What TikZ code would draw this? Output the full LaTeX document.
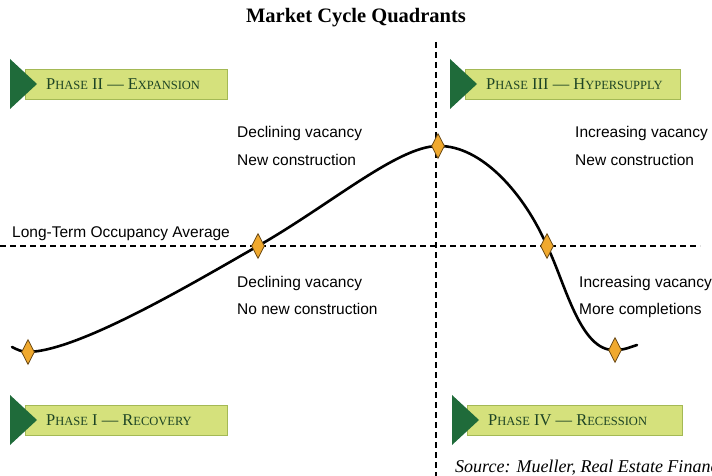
\documentclass[tikz,border=0pt]{standalone}
\usepackage{fontspec}
\newfontfamily\notefont{Liberation Sans}
\newfontfamily\titlefont{Liberation Serif}
\usetikzlibrary{positioning,shapes.geometric}

\definecolor{tipgreen}{HTML}{1F6B3A}
\definecolor{barfill}{HTML}{D5E17C}
\definecolor{barline}{HTML}{A4B955}
\definecolor{bartext}{HTML}{1D4424}
\definecolor{markfill}{HTML}{F0A92E}
\definecolor{markline}{HTML}{6B4A16}

% smaller capitals for the banner lettering
\newcommand{\lowcaps}[1]{{\fontsize{12.5}{14}\selectfont #1}}

\tikzset{
  phasebar/.style={draw=barline, fill=barfill, line width=0.8pt,
    minimum height=30pt, inner sep=0pt, anchor=west},
  phaselabel/.style={text=bartext, inner sep=0pt, anchor=west,
    font=\titlefont\fontsize{16.5}{18}\selectfont},
  marker/.style={diamond, draw=markline, fill=markfill, line width=0.8pt,
    minimum width=13pt, minimum height=25pt, inner sep=0pt},
  note/.style={font=\notefont\fontsize{15.5}{18}\selectfont, anchor=base west,
    inner sep=0pt},
  guide/.style={black, line width=1.4pt, dash pattern=on 6pt off 4pt},
  cycle line/.style={black, line width=2.6pt, line cap=round}
}

% #1 name, #2 x of the tip, #3 y of the centre line, #4 bar width, #5 text
\newcommand{\phasebanner}[5]{%
  \node[phasebar, minimum width=#4pt] (#1) at (#2+15,#3) {};
  \fill[tipgreen] (#2,#3-25) -- (#2+27,#3) -- (#2,#3+25) -- cycle;
  \node[phaselabel, right=21pt of #1.west] (#1-text) {#5};
}

\begin{document}
\begin{tikzpicture}[x=1pt, y=-1pt]
  \useasboundingbox (0,0) rectangle (712,476);
  \clip (0,0) rectangle (712,476);

  % Title
  \node[font=\titlefont\bfseries\fontsize{20.5}{24}\selectfont] (title)
    at (356,18) {Market Cycle Quadrants};

  % Quadrant guides
  \coordinate (vtop) at (436,42);
  \coordinate (vbot) at (436,476);
  \coordinate (hleft) at (0,246);
  \coordinate (hright) at (700,246);
  \draw[guide] (vtop) -- (vbot);
  \draw[guide] (hleft) -- (hright);

  \node[note] (average) at (12,237) {Long-Term Occupancy Average};

  % Phase banners
  \phasebanner{expansion}{10}{84}{202}{P\lowcaps{HASE} II — E\lowcaps{XPANSION}}
  \phasebanner{hypersupply}{450}{84}{215}{P\lowcaps{HASE} III — H\lowcaps{YPERSUPPLY}}
  \phasebanner{recovery}{10}{420}{202}{P\lowcaps{HASE} I — R\lowcaps{ECOVERY}}
  \phasebanner{recession}{452}{420}{215}{P\lowcaps{HASE} IV — R\lowcaps{ECESSION}}

  % Quadrant notes
  \node[note] (exp-a) at (237,138) {Declining vacancy};
  \node[note] (exp-b) at (237,165) {New construction};
  \node[note] (hyp-a) at (575,138) {Increasing vacancy};
  \node[note] (hyp-b) at (575,165) {New construction};
  \node[note] (rec-a) at (237,287) {Declining vacancy};
  \node[note] (rec-b) at (237,314) {No new construction};
  \node[note] (res-a) at (579,287) {Increasing vacancy};
  \node[note] (res-b) at (579,314) {More completions};

  % Cycle curve through the turning points
  \coordinate (cstart) at (12,347);
  \coordinate (trough) at (28,352);
  \coordinate (riseavg) at (258,246);
  \coordinate (peak) at (438,146);
  \coordinate (fallavg) at (547,246);
  \coordinate (bottom) at (615,350);
  \coordinate (cend) at (637,345);
  \draw[cycle line] (cstart) .. controls (18,350) and (22,352) .. (trough)
    .. controls (80,351) and (198,280) .. (riseavg)
    .. controls (330,205) and (398,146) .. (peak)
    .. controls (482,145) and (525,195) .. (fallavg)
    .. controls (565,282) and (580,352) .. (bottom)
    .. controls (625,350) and (630,347) .. (cend);

  \foreach \p in {trough, riseavg, peak, fallavg, bottom}
    \node[marker] (m-\p) at (\p) {};

  % Source line
  \node[font=\titlefont\itshape\fontsize{18}{20}\selectfont, anchor=base west,
    inner sep=0pt] (source) at (455,472) {Source: Mueller, Real Estate Finance};
\end{tikzpicture}
\end{document}
